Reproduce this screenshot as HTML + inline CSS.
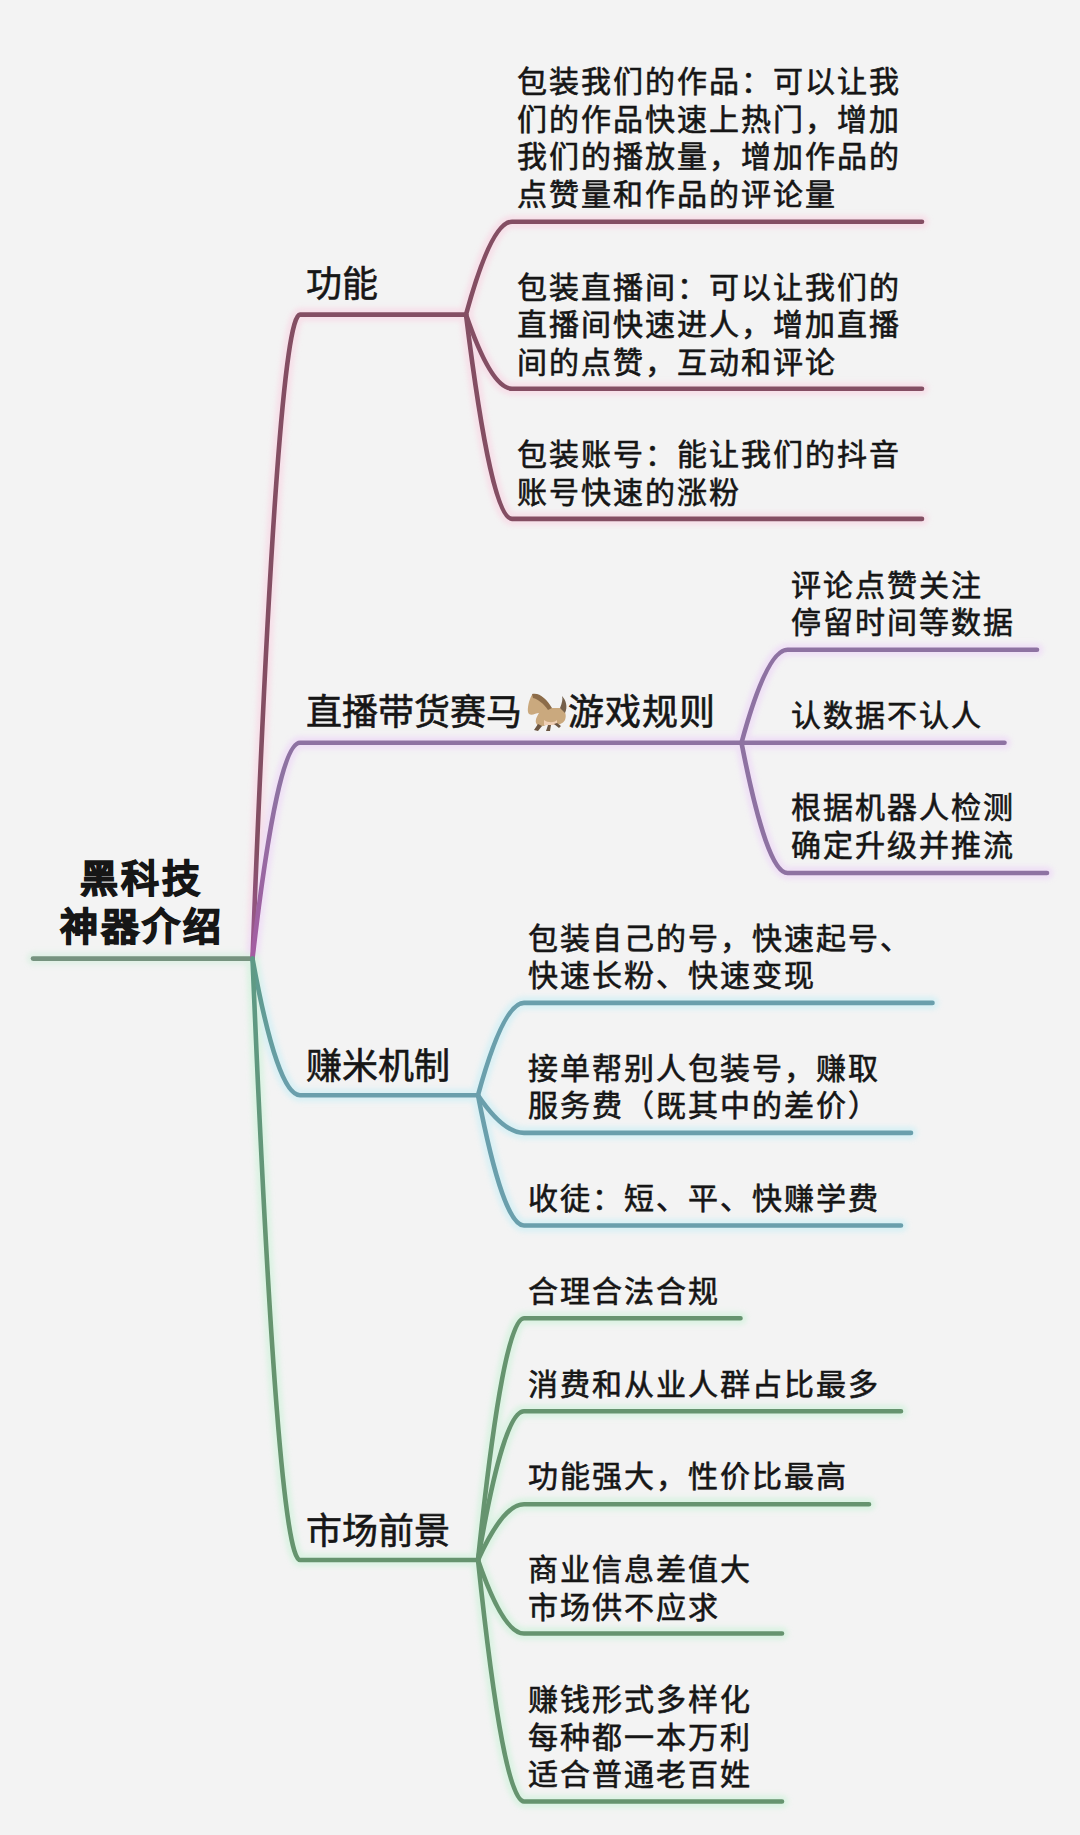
<!DOCTYPE html>
<html lang="zh-CN"><head><meta charset="utf-8"><style>
html,body{margin:0;padding:0;}
body{width:1080px;height:1835px;background:#f3f3f3;position:relative;overflow:hidden;font-family:"Liberation Sans",sans-serif;color:#161616;}
.c,.l,.r{position:absolute;white-space:nowrap;line-height:40px;}
.c{font-size:30px;letter-spacing:2px;-webkit-text-stroke:0.6px #161616;}
.l{font-size:36px;-webkit-text-stroke:0.6px #161616;}
.r{font-size:38px;font-weight:900;letter-spacing:3px;-webkit-text-stroke:1.3px #161616;width:203px;text-align:center;}
</style></head><body>
<svg width="1080" height="1835" viewBox="0 0 1080 1835" style="position:absolute;left:0;top:0"><defs><linearGradient id="gm" gradientUnits="userSpaceOnUse" x1="0" y1="958" x2="0" y2="850"><stop offset="0" stop-color="#9e5a96"/><stop offset="1" stop-color="#844e63"/></linearGradient><linearGradient id="gp" gradientUnits="userSpaceOnUse" x1="0" y1="958" x2="0" y2="790"><stop offset="0" stop-color="#a45ca2"/><stop offset="1" stop-color="#8e72a2"/></linearGradient><linearGradient id="gt" gradientUnits="userSpaceOnUse" x1="0" y1="958" x2="0" y2="1090"><stop offset="0" stop-color="#5c9a88"/><stop offset="1" stop-color="#6a9fac"/></linearGradient><linearGradient id="gg" gradientUnits="userSpaceOnUse" x1="0" y1="958" x2="0" y2="1300"><stop offset="0" stop-color="#5e9a86"/><stop offset="1" stop-color="#66946f"/></linearGradient><filter id="bl" x="-5%" y="-5%" width="110%" height="110%"><feGaussianBlur stdDeviation="2.5"/></filter></defs><g fill="none" stroke-width="13" stroke-linecap="round" filter="url(#bl)" opacity="0.55"><path d="M33,958.6 H252" stroke="#d2eedc"/><path d="M252.5,958.6 Q277.4,314.6 300,314.6 H466" stroke="#f9cfe0"/><path d="M252.5,958.6 Q277.4,742.8 300,742.8 H741.5" stroke="#ecd0f8"/><path d="M252.5,958.6 Q277.4,1095.2 300,1095.2 H478" stroke="#c4eef6"/><path d="M252.5,958.6 Q277.4,1560.0 300,1560.0 H478" stroke="#c8f2d6"/><path d="M466,314.6 Q491.3,221.7 512,221.7 H922" stroke="#f9cfe0"/><path d="M466,314.6 Q491.3,388.7 512,388.7 H922" stroke="#f9cfe0"/><path d="M466,314.6 Q491.3,518.9 512,518.9 H922" stroke="#f9cfe0"/><path d="M741.5,742.8 Q766.8,649.8 787.5,649.8 H1037" stroke="#ecd0f8"/><path d="M741.5,742.8 Q766.8,873 787.5,873 H1047" stroke="#ecd0f8"/><path d="M741.5,742.8 H1004.5" stroke="#ecd0f8"/><path d="M478,1095.2 Q503.3,1002.9 524,1002.9 H932.5" stroke="#c4eef6"/><path d="M478,1095.2 Q503.3,1132.9 524,1132.9 H911" stroke="#c4eef6"/><path d="M478,1095.2 Q503.3,1225.5 524,1225.5 H901" stroke="#c4eef6"/><path d="M478,1560.0 Q503.3,1318.3 524,1318.3 H740.5" stroke="#c8f2d6"/><path d="M478,1560.0 Q503.3,1411.3 524,1411.3 H901" stroke="#c8f2d6"/><path d="M478,1560.0 Q503.3,1504.2 524,1504.2 H869" stroke="#c8f2d6"/><path d="M478,1560.0 Q503.3,1633.5 524,1633.5 H782" stroke="#c8f2d6"/><path d="M478,1560.0 Q503.3,1801.5 524,1801.5 H782" stroke="#c8f2d6"/></g><g fill="none" stroke-width="4.6" stroke-linecap="round"><path d="M33,958.6 H252" stroke="#76937f"/><path d="M252.5,958.6 Q277.4,314.6 300,314.6 H466" stroke="url(#gm)"/><path d="M252.5,958.6 Q277.4,742.8 300,742.8 H741.5" stroke="url(#gp)"/><path d="M252.5,958.6 Q277.4,1095.2 300,1095.2 H478" stroke="url(#gt)"/><path d="M252.5,958.6 Q277.4,1560.0 300,1560.0 H478" stroke="url(#gg)"/><path d="M466,314.6 Q491.3,221.7 512,221.7 H922" stroke="#844e63"/><path d="M466,314.6 Q491.3,388.7 512,388.7 H922" stroke="#844e63"/><path d="M466,314.6 Q491.3,518.9 512,518.9 H922" stroke="#844e63"/><path d="M741.5,742.8 Q766.8,649.8 787.5,649.8 H1037" stroke="#8e72a2"/><path d="M741.5,742.8 Q766.8,873 787.5,873 H1047" stroke="#8e72a2"/><path d="M741.5,742.8 H1004.5" stroke="#8e72a2"/><path d="M478,1095.2 Q503.3,1002.9 524,1002.9 H932.5" stroke="#6a9fac"/><path d="M478,1095.2 Q503.3,1132.9 524,1132.9 H911" stroke="#6a9fac"/><path d="M478,1095.2 Q503.3,1225.5 524,1225.5 H901" stroke="#6a9fac"/><path d="M478,1560.0 Q503.3,1318.3 524,1318.3 H740.5" stroke="#66946f"/><path d="M478,1560.0 Q503.3,1411.3 524,1411.3 H901" stroke="#66946f"/><path d="M478,1560.0 Q503.3,1504.2 524,1504.2 H869" stroke="#66946f"/><path d="M478,1560.0 Q503.3,1633.5 524,1633.5 H782" stroke="#66946f"/><path d="M478,1560.0 Q503.3,1801.5 524,1801.5 H782" stroke="#66946f"/></g></svg>
<svg style="position:absolute;left:526px;top:691px" width="42" height="42" viewBox="0 0 42 42"><g filter="url(#hb)"><defs><filter id="hb"><feGaussianBlur stdDeviation="0.5"/></filter></defs><path d="M6,4 C12,1 20,8 25,17 L34,17 C39,18 41,24 39,29 C37,33 32,34 28,34 L20,34 C16,36 12,36 10,32 C9,28 12,24 13,22 C10,22 6,25 3,23 C1,21 2,15 3,11 C4,8 5,5 6,4 Z" fill="#caa97e"/><path d="M6,3 C13,1 21,8 26,17 L22,19 C18,13 12,8 7,7 Z" fill="#8c6c4a"/><path d="M34,17 C36,12 37,8 36,5 C40,9 42,16 39,22 Z" fill="#74604c"/><path d="M18,29 C22,32 28,32 31,29 L31,34 L18,34 Z" fill="#f0d0b6"/><path d="M12,33 L8,39 L12,40 L16,35 Z M22,34 L20,40 L24,40 L25,34 Z M28,33 L33,37 L35,35 L31,32 Z" fill="#6a5442"/></g></svg>
<div class="r" style="left:40px;top:858.5px">黑科技</div><div class="r" style="left:40px;top:907.4px">神器介绍</div><div class="l" style="left:306px;top:264.9px">功能</div><div class="l" style="left:306px;top:693.2px">直播带货赛马</div><div class="l" style="left:567.5px;top:693.2px;letter-spacing:1px">游戏规则</div><div class="l" style="left:306px;top:1047.0px">赚米机制</div><div class="l" style="left:306px;top:1511.7px">市场前景</div><div class="c" style="left:516.5px;top:62.1px">包装我们的作品：可以让我</div><div class="c" style="left:516.5px;top:99.6px">们的作品快速上热门，增加</div><div class="c" style="left:516.5px;top:137.1px">我们的播放量，增加作品的</div><div class="c" style="left:516.5px;top:174.6px">点赞量和作品的评论量</div><div class="c" style="left:516.5px;top:267.8px">包装直播间：可以让我们的</div><div class="c" style="left:516.5px;top:305.3px">直播间快速进人，增加直播</div><div class="c" style="left:516.5px;top:342.8px">间的点赞，互动和评论</div><div class="c" style="left:516.5px;top:435.1px">包装账号：能让我们的抖音</div><div class="c" style="left:516.5px;top:472.6px">账号快速的涨粉</div><div class="c" style="left:790.5px;top:565.8px">评论点赞关注</div><div class="c" style="left:790.5px;top:603.3px">停留时间等数据</div><div class="c" style="left:790.5px;top:695.9px">认数据不认人</div><div class="c" style="left:790.5px;top:788.4px">根据机器人检测</div><div class="c" style="left:790.5px;top:825.9px">确定升级并推流</div><div class="c" style="left:528px;top:918.5px">包装自己的号，快速起号、</div><div class="c" style="left:528px;top:956.0px">快速长粉、快速变现</div><div class="c" style="left:528px;top:1048.9px">接单帮别人包装号，赚取</div><div class="c" style="left:528px;top:1086.4px">服务费（既其中的差价）</div><div class="c" style="left:528px;top:1178.9px">收徒：短、平、快赚学费</div><div class="c" style="left:528px;top:1271.7px">合理合法合规</div><div class="c" style="left:528px;top:1364.8px">消费和从业人群占比最多</div><div class="c" style="left:528px;top:1457.0px">功能强大，性价比最高</div><div class="c" style="left:528px;top:1550.0px">商业信息差值大</div><div class="c" style="left:528px;top:1587.5px">市场供不应求</div><div class="c" style="left:528px;top:1680.2px">赚钱形式多样化</div><div class="c" style="left:528px;top:1717.7px">每种都一本万利</div><div class="c" style="left:528px;top:1755.2px">适合普通老百姓</div>
</body></html>
